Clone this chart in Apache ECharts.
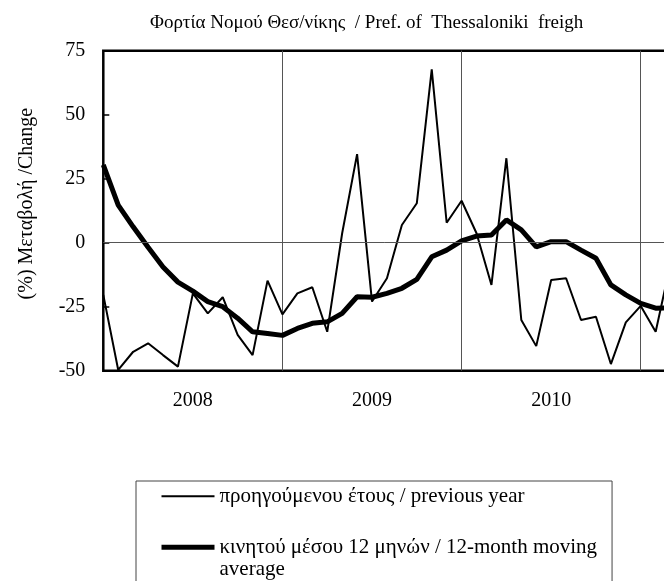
<!DOCTYPE html>
<html>
<head>
<meta charset="utf-8">
<script src="https://cdn.jsdelivr.net/npm/echarts@6/dist/echarts.min.js"></script>
<style>
  html, body { margin: 0; padding: 0; background: #fff; }
  #chart { width: 664px; height: 581px; }
</style>
</head>
<body>
<div id="chart"></div>
<script>
// Monthly categories (Jan 2008 .. Mar 2011)
var months = [
  '2008-01','2008-02','2008-03','2008-04','2008-05','2008-06','2008-07','2008-08','2008-09','2008-10','2008-11','2008-12',
  '2009-01','2009-02','2009-03','2009-04','2009-05','2009-06','2009-07','2009-08','2009-09','2009-10','2009-11','2009-12',
  '2010-01','2010-02','2010-03','2010-04','2010-05','2010-06','2010-07','2010-08','2010-09','2010-10','2010-11','2010-12',
  '2011-01','2011-02','2011-03'
];
var yearLabels = ['2008', '2009', '2010'];
var yTicks = [-50, -25, 0, 25, 50, 75];

var nameYoY = 'προηγούμενου έτους / previous year';
var nameMA = 'κινητού μέσου 12 μηνών / 12-month moving average';

// % change vs previous year
var yoyValues = [-20.4, -49.7, -42.6, -39.3, -43.9, -48.4, -19.8, -27.6, -21.3, -36.0, -43.9, -14.8,
                 -28.0, -19.8, -17.4, -34.8, 3.7, 34.6, -23.0, -13.9, 6.9, 15.4, 67.7, 7.8,
                 16.4, 3.7, -16.5, 33.0, -30.2, -40.4, -14.6, -13.9, -30.2, -28.9, -47.4, -31.1,
                 -24.7, -34.8, -8.0];
// 12-month moving average
var maValues = [30.4, 14.7, 6.2, -1.8, -9.5, -15.4, -18.9, -23.0, -25.0, -29.5, -34.8, -35.5,
                -36.2, -33.5, -31.5, -30.9, -27.6, -21.1, -21.3, -19.8, -17.8, -14.3, -5.5, -2.9,
                0.7, 2.6, 3.0, 8.9, 5.0, -1.6, 0.4, 0.4, -2.9, -6.1, -16.5, -20.4,
                -23.7, -25.6, -25.5];

var FONT = '"Liberation Serif", "Times New Roman", serif';
var chart = echarts.init(document.getElementById('chart'), null, { renderer: 'canvas' });

var yearIdx = {6: 0, 18: 1, 30: 2};

chart.setOption({
  animation: false,
  backgroundColor: '#fff',
  title: {
    text: 'Φορτία Νομού Θεσ/νίκης  / Pref. of  Thessaloniki  freigh',
    left: 150, top: 14, padding: 0,
    textStyle: { fontFamily: FONT, fontSize: 19, fontWeight: 'normal', color: '#000' }
  },
  grid: {
    left: 103.3, width: 567.3, top: 50.7, height: 320,
    outerBoundsMode: 'none',
    show: true, borderColor: '#000', borderWidth: 2.5, backgroundColor: 'transparent',
    containLabel: false
  },
  legend: {
    orient: 'vertical', left: 136, top: 481, height: 300,
    itemWidth: 53, itemHeight: 10, itemGap: 7,
    padding: [4.3, 15, 40, 23],
    borderColor: '#444', borderWidth: 1, backgroundColor: '#fff',
    itemStyle: { opacity: 0 },
    lineStyle: { width: 'inherit' },
    textStyle: { fontFamily: FONT, fontSize: 21, lineHeight: 22, color: '#000' },
    formatter: function (n) {
      return n === nameMA ? '\nκινητού μέσου 12 μηνών / 12-month moving\naverage' : n;
    },
    data: [
      { name: nameYoY },
      { name: nameMA }
    ]
  },
  xAxis: {
    type: 'category', data: months, boundaryGap: false,
    axisLine: { show: false },
    axisTick: { show: false },
    axisLabel: {
      interval: function (idx) { return yearIdx[idx] !== undefined; },
      formatter: function (v, idx) { return yearLabels[yearIdx[idx]] || ''; },
      margin: 20, fontFamily: FONT, fontSize: 20, color: '#000'
    },
    splitLine: {
      show: true,
      interval: function (idx) { return idx > 0 && idx % 12 === 0; },
      lineStyle: { color: '#555', width: 1 }
    }
  },
  yAxis: {
    type: 'value', min: yTicks[0], max: yTicks[yTicks.length - 1], interval: 25,
    name: '(%) Μεταβολή /Change', nameLocation: 'middle', nameGap: 67,
    nameTextStyle: { fontFamily: FONT, fontSize: 20, color: '#000', padding: [0, 0, 0, 14] },
    axisLine: { show: false },
    axisTick: { show: true, inside: true, length: 6, lineStyle: { color: '#000', width: 1.5 } },
    axisLabel: { margin: 18, fontFamily: FONT, fontSize: 20, color: '#000' },
    splitLine: { show: false }
  },
  series: [
    {
      name: nameYoY, type: 'line', data: yoyValues, symbol: 'none',
      lineStyle: { color: '#000', width: 2 }, itemStyle: { color: '#000' },
      markLine: {
        silent: true, symbol: 'none', label: { show: false },
        lineStyle: { color: '#555', width: 1, type: 'solid' },
        data: [{ yAxis: 0 }]
      },
      z: 3
    },
    {
      name: nameMA, type: 'line', data: maValues, symbol: 'none',
      lineStyle: { color: '#000', width: 5 }, itemStyle: { color: '#000' },
      z: 4
    }
  ]
});
</script>
</body>
</html>
